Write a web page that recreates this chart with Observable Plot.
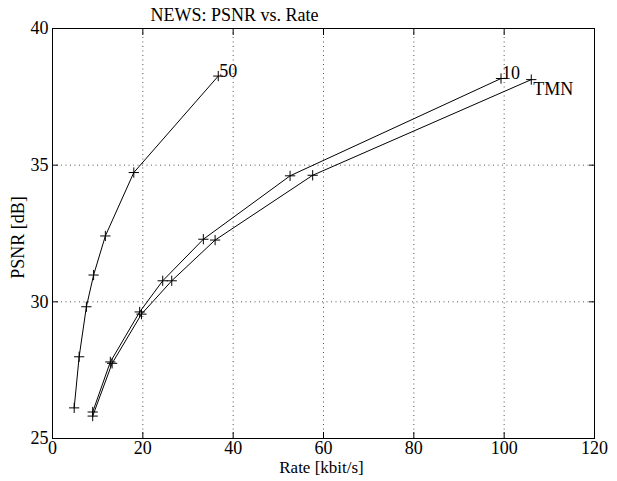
<!DOCTYPE html>
<html>
<head>
<meta charset="utf-8">
<script src="https://cdn.jsdelivr.net/npm/d3@7"></script>
<script src="https://cdn.jsdelivr.net/npm/@observablehq/plot@0.6"></script>
<style>
  html, body { margin: 0; padding: 0; background: #fff; }
</style>
</head>
<body>
<div id="chart"></div>
<script>
const title = "NEWS: PSNR vs. Rate";
const xLabel = "Rate [kbit/s]";
const yLabel = "PSNR [dB]";
const xTicks = [0, 20, 40, 60, 80, 100, 120];
const yTicks = [25, 30, 35, 40];
const xGrid = [20, 40, 60, 80, 100];
const yGrid = [30, 35];

const series = ["50", "10", "TMN"];
const rate50 = [4.8, 5.9, 7.5, 9.1, 11.7, 18.0, 36.7];
const psnr50 = [26.12, 27.99, 29.82, 30.98, 32.41, 34.73, 38.26];
const rate10 = [8.9, 12.8, 19.3, 24.4, 33.4, 52.6, 99.3];
const psnr10 = [25.97, 27.8, 29.63, 30.77, 32.29, 34.61, 38.17];
const rateTMN = [8.9, 13.2, 19.7, 26.4, 36.0, 57.6, 106.0];
const psnrTMN = [25.82, 27.75, 29.55, 30.77, 32.26, 34.63, 38.13];

const rates = [rate50, rate10, rateTMN];
const psnrs = [psnr50, psnr10, psnrTMN];
const data = series.flatMap((s, i) => rates[i].map((r, j) => ({series: s, rate: r, psnr: psnrs[i][j]})));
const ends = series.map((s, i) => ({series: s, rate: rates[i][rates[i].length - 1], psnr: psnrs[i][psnrs[i].length - 1]}));

const font = "Liberation Serif, Times New Roman, serif";
const noText = () => "";

const chart = Plot.plot({
  width: 617,
  height: 481,
  marginTop: 28,
  marginBottom: 43,
  marginLeft: 52,
  marginRight: 23,
  style: {fontFamily: font, fontSize: "18px", background: "#fff", color: "#000"},
  x: {domain: [0, 120]},
  y: {domain: [25, 40]},
  marks: [
    Plot.ruleX(xGrid, {stroke: "#555", strokeDasharray: "1,3.5", strokeWidth: 1}),
    Plot.ruleY(yGrid, {stroke: "#555", strokeDasharray: "1,3.5", strokeWidth: 1}),
    Plot.frame({stroke: "#000", strokeWidth: 1}),
    Plot.axisX(xTicks, {anchor: "bottom", tickSize: 0, tickPadding: 3, label: null, fontSize: 18}),
    Plot.axisX(xTicks, {anchor: "bottom", tickSize: -6, tickFormat: noText, label: null}),
    Plot.axisX(xTicks, {anchor: "top", tickSize: -6, tickFormat: noText, label: null}),
    Plot.axisY(yTicks, {anchor: "left", tickSize: 0, tickPadding: 4, label: null, fontSize: 18}),
    Plot.axisY(yTicks, {anchor: "left", tickSize: -6, tickFormat: noText, label: null}),
    Plot.axisY(yTicks, {anchor: "right", tickSize: -6, tickFormat: noText, label: null}),
    Plot.line(data, {x: "rate", y: "psnr", z: "series", stroke: "#000", strokeWidth: 1}),
    Plot.dot(data, {x: "rate", y: "psnr", symbol: "plus", r: 3.4, stroke: "#000", strokeWidth: 1}),
    Plot.text(ends.filter(d => d.series !== "TMN"), {x: "rate", y: "psnr", text: "series", textAnchor: "start", dx: 1, dy: -5, fontSize: 18}),
    Plot.text(ends.filter(d => d.series === "TMN"), {x: "rate", y: "psnr", text: "series", textAnchor: "start", dx: 2, dy: 10, fontSize: 18}),
    Plot.text([title], {frameAnchor: "top", textAnchor: "middle", lineAnchor: "middle", dx: -89, dy: -13, fontSize: 18}),
    Plot.text([xLabel], {frameAnchor: "bottom", textAnchor: "middle", lineAnchor: "middle", dx: -2, dy: 29, fontSize: 17}),
    Plot.text([yLabel], {frameAnchor: "left", textAnchor: "middle", lineAnchor: "middle", rotate: -90, dx: -34, dy: 4, fontSize: 18})
  ]
});
document.getElementById("chart").append(chart);
</script>
</body>
</html>
